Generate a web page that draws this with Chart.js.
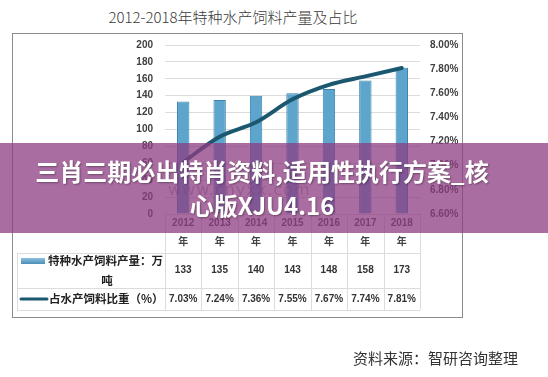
<!DOCTYPE html>
<html>
<head>
<meta charset="utf-8">
<script src="https://cdn.jsdelivr.net/npm/chart.js@4.4.1/dist/chart.umd.min.js"></script>
<style>
  html,body{margin:0;padding:0;background:#fff;}
  body{width:548px;height:377px;position:relative;overflow:hidden;font-family:"Noto Sans CJK SC","Noto Sans",sans-serif;}
  #title{position:absolute;left:0;top:7px;width:466px;text-align:center;font-size:15px;line-height:20px;color:#3a3a3a;font-weight:300;}
  #wrap{position:absolute;left:0;top:0;width:548px;height:377px;}
  #source{position:absolute;right:30px;top:348px;font-size:15px;line-height:20px;color:#333;}
  #wm{position:absolute;left:168px;top:180px;font-family:"DejaVu Sans",sans-serif;font-size:16px;color:rgba(90,90,90,0.45);letter-spacing:1px;}
  #banner{position:absolute;left:0;top:143px;width:548px;height:90px;background:rgba(140,60,130,0.75);}
  #banner div{position:absolute;left:0;top:0;width:524px;height:90px;display:flex;align-items:center;justify-content:center;text-align:center;color:#fff;font-weight:700;font-size:24px;line-height:34px;text-shadow:1px 1px 2px rgba(0,0,0,0.35);}
</style>
</head>
<body>
<div id="title">2012-2018年特种水产饲料产量及占比</div>
<div id="wrap"><canvas id="c" width="548" height="377"></canvas></div>
<div id="wm">www.cnyxx.com</div>
<div id="banner"><div>三肖三期必出特肖资料,适用性执行方案_核<br>心版XJU4.16</div></div>
<div id="source">资料来源：智研咨询整理</div>
<script>
// ---- data ----
const categories = ['2012', '2013', '2014', '2015', '2016', '2017', '2018'];
const yearSuffix = '年';
const outputLabel = ['特种水产饲料产量：万', '吨'];
const shareLabel = '占水产饲料比重（%）';
const outputValues = [133, 135, 140, 143, 148, 158, 173];
const shareValues = [7.03, 7.24, 7.36, 7.55, 7.67, 7.74, 7.81];
const leftAxis = { min: 0, max: 200, step: 20 };
const rightAxis = { min: 6.6, max: 8.0, step: 0.2 };

const BAR = '#5da5cc';
const BAR_BORDER = '#3c83ad';
const LINE = '#1b5870';
const GRID = '#dcdcdc';

const tablePlugin = {
  id: 'tablePlugin',
  afterDraw(chart) {
    const ctx = chart.ctx;
    const x = chart.scales.x;
    const n = categories.length;
    const cw = (x.right - x.left) / n;
    const top = chart.chartArea.bottom;
    const r1 = top + 39, r2 = r1 + 35, r3 = r2 + 22;
    const labelLeft = 17;
    ctx.save();
    // outer box
    ctx.strokeStyle = '#8c8c8c';
    ctx.lineWidth = 1;
    ctx.strokeRect(12.5, 33.5, 450, 284);
    // table lines
    ctx.strokeStyle = GRID;
    ctx.beginPath();
    ctx.moveTo(x.left, top + 0.5); ctx.lineTo(x.right, top + 0.5);
    [r1, r2, r3].forEach(y => { ctx.moveTo(labelLeft, y + 0.5); ctx.lineTo(x.right, y + 0.5); });
    for (let i = 0; i <= n; i++) {
      const px = Math.round(x.left + i * cw) + 0.5;
      ctx.moveTo(px, top); ctx.lineTo(px, r3);
    }
    ctx.moveTo(labelLeft + 0.5, r1); ctx.lineTo(labelLeft + 0.5, r3);
    ctx.stroke();
    // values
    ctx.fillStyle = '#333';
    ctx.font = 'bold 10px "Liberation Sans", Arial, sans-serif';
    ctx.textAlign = 'center';
    ctx.textBaseline = 'middle';
    for (let i = 0; i < n; i++) {
      const px = x.getPixelForValue(i);
      ctx.fillText(String(outputValues[i]), px, (r1 + r2) / 2);
      ctx.fillText(shareValues[i].toFixed(2) + '%', px, (r2 + r3) / 2 + 0.5);
    }
    // legend swatches
    const g = ctx.createLinearGradient(0, r1 + 5, 0, r1 + 11);
    g.addColorStop(0, '#8cc1dd'); g.addColorStop(1, '#4b8fb8');
    ctx.fillStyle = g;
    ctx.fillRect(21, r1 + 5, 24, 6);
    ctx.strokeStyle = LINE;
    ctx.lineWidth = 3;
    ctx.lineCap = 'round';
    ctx.beginPath();
    ctx.moveTo(21, (r2 + r3) / 2); ctx.lineTo(47, (r2 + r3) / 2);
    ctx.stroke();
    // legend labels
    ctx.fillStyle = '#222';
    ctx.font = 'bold 11.5px "Noto Sans CJK SC", sans-serif';
    ctx.textAlign = 'left';
    ctx.fillText(outputLabel[0], 48, r1 + 8);
    ctx.textAlign = 'center';
    ctx.fillText(outputLabel[1], 107, r1 + 28);
    ctx.textAlign = 'left';
    ctx.fillText(shareLabel, 49, (r2 + r3) / 2);
    ctx.restore();
  }
};

new Chart(document.getElementById('c'), {
  data: {
    labels: categories.map(c => [c, yearSuffix]),
    datasets: [
      {
        type: 'line',
        label: shareLabel,
        data: shareValues,
        yAxisID: 'y2',
        borderColor: LINE,
        borderWidth: 4,
        pointRadius: 0,
        tension: 0.4,
        cubicInterpolationMode: 'monotone',
        borderCapStyle: 'round',
        order: 0
      },
      {
        type: 'bar',
        label: outputLabel.join(''),
        data: outputValues,
        yAxisID: 'y',
        backgroundColor: BAR,
        borderColor: BAR_BORDER,
        borderWidth: 1,
        barPercentage: 0.34,
        categoryPercentage: 1,
        order: 1
      }
    ]
  },
  options: {
    responsive: false,
    animation: false,
    devicePixelRatio: 1,
    layout: { padding: { left: 12, right: 86, top: 45, bottom: 124 } },
    plugins: { legend: { display: false }, tooltip: { enabled: false }, title: { display: false } },
    scales: {
      x: {
        grid: { display: false, drawTicks: false },
        border: { display: false },
        ticks: {
          autoSkip: false, maxRotation: 0, padding: 0,
          color: '#444',
          font: { family: '"Liberation Sans", "Noto Sans CJK SC", sans-serif', size: 10, weight: 'bold', lineHeight: '19px' }
        },
        afterFit(s) { s.height = 39; }
      },
      y: {
        position: 'left',
        min: leftAxis.min, max: leftAxis.max,
        grid: { color: GRID, drawTicks: false },
        border: { display: false },
        ticks: {
          stepSize: leftAxis.step, padding: 12, color: '#404040',
          font: { family: '"Liberation Sans", Arial, sans-serif', size: 10, weight: 'bold' }
        },
        afterFit(s) { s.width = 153; }
      },
      y2: {
        position: 'right',
        min: rightAxis.min, max: rightAxis.max,
        grid: { display: false, drawTicks: false },
        border: { display: false },
        ticks: {
          stepSize: rightAxis.step, padding: 10, color: '#404040',
          font: { family: '"Liberation Sans", Arial, sans-serif', size: 10, weight: 'bold' },
          callback: v => v.toFixed(2) + '%'
        },
        afterFit(s) { s.width = 42; }
      }
    }
  },
  plugins: [tablePlugin]
});
</script>
</body>
</html>
